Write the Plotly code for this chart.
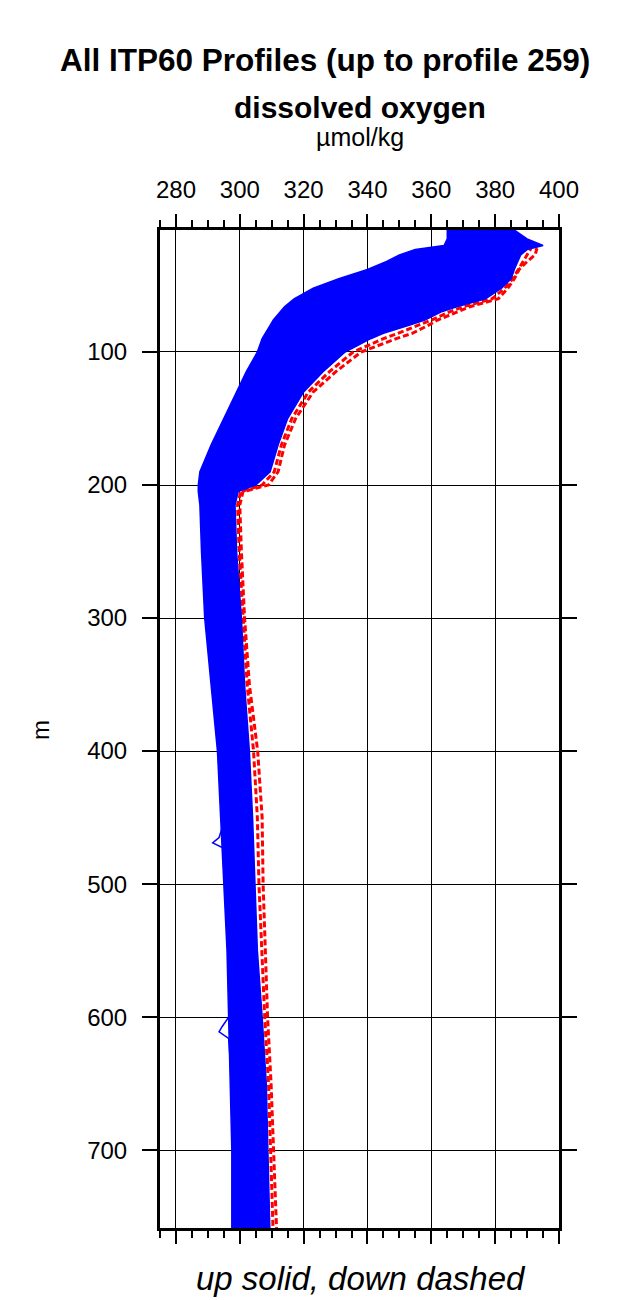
import plotly.graph_objects as go

# depth levels (m)
depth = [8.3, 15, 20, 23, 27, 32, 38, 45, 52, 60, 66, 70, 76, 80, 86, 90, 100, 115, 130,
         150, 170, 190, 200, 205, 215, 250, 300, 350, 400, 450, 500, 550, 600, 650, 700, 758.5]

# blue (up, solid) envelope, umol/kg
up_left = [365, 365, 364, 355, 350, 346, 340, 331, 323, 317, 314, 312.5, 310.5, 309.5, 308, 307,
           305.5, 302, 299, 295, 291, 287.5, 287, 287, 287.5, 288, 289, 291, 293, 294, 295,
           296, 296.5, 297, 297.5, 297.5]
up_right = [386, 390, 395, 390, 388, 387, 386, 385, 382, 377, 368, 363, 358, 353, 345, 341,
            333, 326, 320, 315, 312, 309.5, 305, 299.5, 298.5, 299, 300.5, 301.5, 303, 304,
            304.7, 305.5, 307, 308.3, 308.8, 309.4]
# red (down, dashed) profiles
down_right = [383, 388, 392, 393, 392.5, 390, 387.5, 386, 384, 381, 372, 368, 362, 359, 354,
              349, 338, 330, 323, 317.5, 314, 312, 309, 301, 300, 300.5, 301.5, 303, 305.6,
              307, 307.3, 308, 308.7, 309.8, 310.5, 311.5]
down_mid = [380, 386, 390, 391, 390, 388.5, 387, 385.5, 383, 379, 370, 365.5, 360, 356, 349.5,
            345, 335.5, 328, 321.5, 316.3, 313, 310.8, 307, 300.3, 299.3, 299.8, 301, 302.3, 304.3,
            305.5, 306, 306.8, 307.8, 309, 309.6, 310.4]

# individual up profiles with visible excursions
spike1_depth = [420, 450, 465, 469, 473, 490, 520]
spike1_ox = [295, 295.5, 293.5, 291.5, 295, 296, 296.5]
spike2_depth = [580, 600, 607, 611, 616, 630, 650]
spike2_ox = [297, 296.5, 294.5, 293.5, 296.5, 297, 297.5]
top_depth = [8.3, 14, 20, 22]
top_ox = [365.5, 366, 367, 360]

BLUE = "#0000ff"
RED = "#ff0000"

fig = go.Figure()
for prof in (down_mid, down_right):
    fig.add_trace(go.Scatter(x=prof, y=depth, mode="lines",
                             line=dict(color=RED, width=3, dash="6px,3px"),
                             hoverinfo="skip", showlegend=False))
fig.add_trace(go.Scatter(x=up_left, y=depth, mode="lines",
                         line=dict(color=BLUE, width=1.5), showlegend=False,
                         hoverinfo="skip"))
fig.add_trace(go.Scatter(x=up_right, y=depth, mode="lines", fill="tonextx",
                         fillcolor=BLUE, line=dict(color=BLUE, width=1.5),
                         showlegend=False, hoverinfo="skip"))
for xs, ys in ((spike1_ox, spike1_depth), (spike2_ox, spike2_depth), (top_ox, top_depth)):
    fig.add_trace(go.Scatter(x=xs, y=ys, mode="lines", line=dict(color=BLUE, width=1.5),
                             showlegend=False, hoverinfo="skip"))

L, R, T, B = 160, 71, 230, 72
W, H = 630, 1300
pw, ph = W - L - R, H - T - B


def px(xp):
    return (xp - L) / pw


def py(yp):
    return (H - B - yp) / ph


FONT = "Liberation Sans, Arial, Helvetica, sans-serif"
anns = [
    dict(text="<b>All ITP60 Profiles (up to profile 259)</b>", x=px(325), y=py(60),
         font=dict(size=31.5)),
    dict(text="<b>dissolved oxygen</b>", x=px(360), y=py(108), font=dict(size=30)),
    dict(text="µmol/kg", x=px(360), y=py(137), font=dict(size=25)),
    dict(text="<i>up solid, down dashed</i>", x=px(361), y=py(1278), font=dict(size=33)),
    dict(text="m", x=px(40), y=py(730), font=dict(size=24), textangle=-90),
]
for a in anns:
    a.update(xref="paper", yref="paper", showarrow=False, xanchor="center",
             yanchor="middle")
    a["font"].update(family=FONT, color="black")

fig.update_layout(
    width=W, height=H, margin=dict(l=L, r=R, t=T, b=B),
    paper_bgcolor="white", plot_bgcolor="white",
    font=dict(family=FONT, color="black", size=24),
    annotations=anns,
    xaxis=dict(range=[275, 400], side="top", tickvals=[280, 300, 320, 340, 360, 380, 400],
               ticks="outside", ticklen=13, tickwidth=2, tickcolor="black",
               showline=True, linewidth=3, linecolor="black", mirror="ticks",
               showgrid=True, gridcolor="black", gridwidth=1, zeroline=False,
               minor=dict(ticks="outside", ticklen=7, tickwidth=2, tickcolor="black",
                          dtick=5, tick0=275, showgrid=False),
               tickfont=dict(size=24), ticklabelstandoff=6),
    yaxis=dict(range=[758.5, 8.3], tickvals=[100, 200, 300, 400, 500, 600, 700],
               ticks="outside", ticklen=15, tickwidth=2, tickcolor="black",
               showline=True, linewidth=3, linecolor="black", mirror="ticks",
               showgrid=True, gridcolor="black", gridwidth=1, zeroline=False,
               tickfont=dict(size=24), ticklabelstandoff=10),
)

fig.write_html("out.html", config={"displayModeBar": False},
               post_script="document.body.style.margin='0';")
